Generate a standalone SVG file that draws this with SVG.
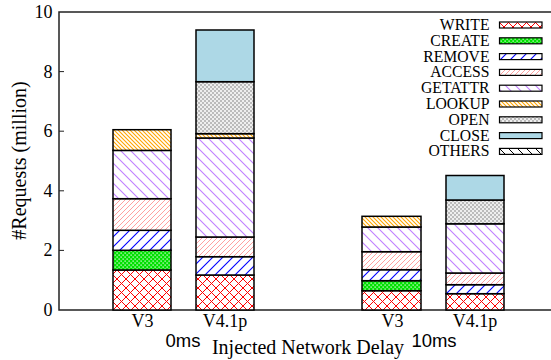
<svg xmlns="http://www.w3.org/2000/svg" width="551" height="360" viewBox="0 0 551 360">
<style>
.t{font-family:"Liberation Serif","Times New Roman",serif;font-size:18px;fill:#000}
.tl{font-family:"Liberation Serif","Times New Roman",serif;font-size:15.7px;fill:#000;text-anchor:end}
.ts{font-family:"Liberation Sans",Arial,sans-serif;font-size:18.5px;fill:#000;text-anchor:middle}
.seg{stroke:#000;stroke-width:1.5}
.sw{stroke:#000;stroke-width:1.2}
.ax{fill:none;stroke:#222;stroke-width:1.5}
</style>
<defs>
<pattern id="pWrite" patternUnits="userSpaceOnUse" width="9" height="9">
<rect width="9" height="9" fill="#fff"/>
<path d="M0,0L9,9M-1,8L1,10M8,-1L10,1M0,9L9,0M-1,1L1,-1M8,10L10,8" stroke="#f00" stroke-width="1"/>
</pattern>
<pattern id="pCreate" patternUnits="userSpaceOnUse" width="4" height="4">
<rect width="4" height="4" fill="#00e000"/>
<rect x="0.5" y="0.5" width="1.2" height="1.2" fill="#fff"/>
<rect x="2.5" y="2.5" width="1.2" height="1.2" fill="#fff"/>
</pattern>
<pattern id="pRemove" patternUnits="userSpaceOnUse" width="10" height="10">
<rect width="10" height="10" fill="#fff"/>
<path d="M0,10L10,0M-1,1L1,-1M9,11L11,9" stroke="#00f" stroke-width="1.1"/>
</pattern>
<pattern id="pAccess" patternUnits="userSpaceOnUse" width="5" height="5">
<rect width="5" height="5" fill="#fff"/>
<path d="M0,5L5,0M-1,1L1,-1M4,6L6,4" stroke="#ffa0a0" stroke-width="1"/>
</pattern>
<pattern id="pGetattr" patternUnits="userSpaceOnUse" width="10" height="10">
<rect width="10" height="10" fill="#fff"/>
<path d="M0,0L10,10M-1,9L1,11M9,-1L11,1" stroke="#c080ff" stroke-width="1.1"/>
</pattern>
<pattern id="pLookup" patternUnits="userSpaceOnUse" width="4" height="4">
<rect width="4" height="4" fill="#fff"/>
<path d="M0,0L4,4M-1,3L1,5M3,-1L5,1" stroke="#ffa500" stroke-width="1.1"/>
</pattern>
<pattern id="pOpen" patternUnits="userSpaceOnUse" width="4" height="4">
<rect width="4" height="4" fill="#eee"/>
<rect width="2" height="2" fill="#bbb"/>
<rect x="2" y="2" width="2" height="2" fill="#bbb"/>
</pattern>
<pattern id="pOthers" patternUnits="userSpaceOnUse" width="9" height="9">
<rect width="9" height="9" fill="#fff"/>
<path d="M0,0L9,9M-1,8L1,10M8,-1L10,1" stroke="#000" stroke-width="1"/>
</pattern>
</defs>

<g id="axes">
<path class="ax" d="M551,12H59V310H551"/>
<path d="M59,71.6h5M59,131.2h5M59,190.8h5M59,250.4h5" stroke="#222" stroke-width="1"/>
<text class="t" x="52.5" y="18" text-anchor="end">10</text>
<text class="t" x="52.5" y="77.6" text-anchor="end">8</text>
<text class="t" x="52.5" y="137.2" text-anchor="end">6</text>
<text class="t" x="52.5" y="196.8" text-anchor="end">4</text>
<text class="t" x="52.5" y="256.4" text-anchor="end">2</text>
<text class="t" x="52.5" y="316" text-anchor="end">0</text>
<text class="t" x="142.5" y="327" text-anchor="middle">V3</text>
<text class="t" x="225" y="327" text-anchor="middle">V4.1p</text>
<text class="t" x="392.5" y="327" text-anchor="middle">V3</text>
<text class="t" x="475" y="327" text-anchor="middle">V4.1p</text>
<text class="ts" x="183" y="346.7">0ms</text>
<text class="ts" x="434" y="346.7">10ms</text>
<text class="t" x="308" y="353.5" text-anchor="middle" style="font-size:20px">Injected Network Delay</text>
<text class="t" transform="translate(26,160.5) rotate(-90)" text-anchor="middle" style="font-size:20px">#Requests (million)</text>
</g>

<g id="bar-v3-0ms">
<rect class="seg" x="113" y="270" width="58" height="40" fill="url(#pWrite)"/>
<rect class="seg" x="113" y="250.3" width="58" height="19.7" fill="url(#pCreate)"/>
<rect class="seg" x="113" y="230.3" width="58" height="20" fill="url(#pRemove)"/>
<rect class="seg" x="113" y="198.7" width="58" height="31.6" fill="url(#pAccess)"/>
<rect class="seg" x="113" y="150.4" width="58" height="48.3" fill="url(#pGetattr)"/>
<rect class="seg" x="113" y="129.7" width="58" height="20.7" fill="url(#pLookup)"/>
</g>

<g id="bar-v41p-0ms">
<rect class="seg" x="196" y="275" width="58" height="35" fill="url(#pWrite)"/>
<rect class="seg" x="196" y="256.7" width="58" height="18.3" fill="url(#pRemove)"/>
<rect class="seg" x="196" y="237" width="58" height="19.7" fill="url(#pAccess)"/>
<rect class="seg" x="196" y="138" width="58" height="99" fill="url(#pGetattr)"/>
<rect class="seg" x="196" y="133.7" width="58" height="4.3" fill="url(#pLookup)"/>
<rect class="seg" x="196" y="81.7" width="58" height="52" fill="url(#pOpen)"/>
<rect class="seg" x="196" y="30" width="58" height="51.7" fill="#add8e6"/>
</g>

<g id="bar-v3-10ms">
<rect class="seg" x="362" y="290.7" width="59" height="19.3" fill="url(#pWrite)"/>
<rect class="seg" x="362" y="280.7" width="59" height="10" fill="url(#pCreate)"/>
<rect class="seg" x="362" y="269.7" width="59" height="11" fill="url(#pRemove)"/>
<rect class="seg" x="362" y="251.7" width="59" height="18" fill="url(#pAccess)"/>
<rect class="seg" x="362" y="227" width="59" height="24.7" fill="url(#pGetattr)"/>
<rect class="seg" x="362" y="216.3" width="59" height="10.7" fill="url(#pLookup)"/>
</g>

<g id="bar-v41p-10ms">
<rect class="seg" x="446" y="293.7" width="58" height="16.3" fill="url(#pWrite)"/>
<rect class="seg" x="446" y="284.7" width="58" height="9" fill="url(#pRemove)"/>
<rect class="seg" x="446" y="273" width="58" height="11.7" fill="url(#pAccess)"/>
<rect class="seg" x="446" y="223.8" width="58" height="49.2" fill="url(#pGetattr)"/>
<rect class="seg" x="446" y="200" width="58" height="23.8" fill="url(#pOpen)"/>
<rect class="seg" x="446" y="175.5" width="58" height="24.5" fill="#add8e6"/>
</g>

<g id="legend">
<text class="tl" x="489.5" y="30">WRITE</text>
<rect class="sw" x="499.5" y="22" width="42.5" height="6" fill="url(#pWrite)"/>
<text class="tl" x="489.5" y="45.8">CREATE</text>
<rect class="sw" x="499.5" y="37.8" width="42.5" height="6" fill="url(#pCreate)"/>
<text class="tl" x="489.5" y="61.6">REMOVE</text>
<rect class="sw" x="499.5" y="53.6" width="42.5" height="6" fill="url(#pRemove)"/>
<text class="tl" x="489.5" y="77.4">ACCESS</text>
<rect class="sw" x="499.5" y="69.4" width="42.5" height="6" fill="url(#pAccess)"/>
<text class="tl" x="489.5" y="93.2">GETATTR</text>
<rect class="sw" x="499.5" y="85.2" width="42.5" height="6" fill="url(#pGetattr)"/>
<text class="tl" x="489.5" y="109">LOOKUP</text>
<rect class="sw" x="499.5" y="101" width="42.5" height="6" fill="url(#pLookup)"/>
<text class="tl" x="489.5" y="124.8">OPEN</text>
<rect class="sw" x="499.5" y="116.8" width="42.5" height="6" fill="url(#pOpen)"/>
<text class="tl" x="489.5" y="140.6">CLOSE</text>
<rect class="sw" x="499.5" y="132.6" width="42.5" height="6" fill="#add8e6"/>
<text class="tl" x="489.5" y="156.4">OTHERS</text>
<rect class="sw" x="499.5" y="148.4" width="42.5" height="6" fill="url(#pOthers)"/>
</g>
</svg>
